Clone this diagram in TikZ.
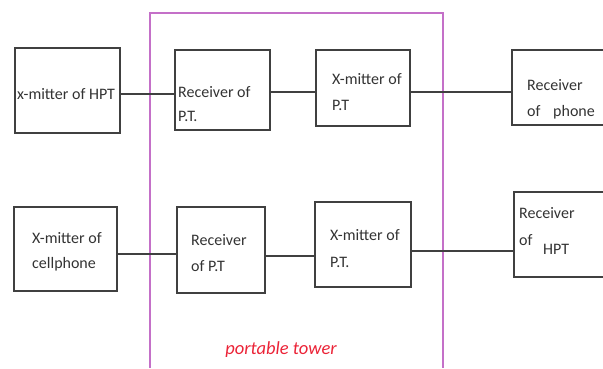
\documentclass[tikz,border=0pt]{standalone}
\usepackage{fontspec}
\setmainfont{Carlito}
\definecolor{towerpurple}{RGB}{196,112,200}
\definecolor{towerred}{RGB}{235,35,55}
\begin{document}
\begin{tikzpicture}[x=1pt,y=-1pt,
  blk/.style={draw=black!75, line width=1.6pt, rectangle, inner sep=0pt},
  wire/.style={draw=black!75, line width=1.6pt},
  txt/.style={anchor=base west, inner sep=0pt, text=black!80, font=\fontsize{16}{18}\selectfont},
  towerbox/.style={draw=towerpurple, line width=1.5pt},
  towerlabel/.style={anchor=base, inner sep=0pt, text=towerred, font=\fontsize{18.5}{20}\selectfont\itshape}]
\useasboundingbox (0,0) rectangle (603,368);
% portable tower frame
\coordinate (t1) at (150,368);
\coordinate (t2) at (150,13);
\coordinate (t3) at (443,13);
\coordinate (t4) at (443,368);
\draw[towerbox] (t1) -- (t2) -- (t3) -- (t4);
\node[towerlabel] (pt) at (281,354) {portable tower};
% boxes row 1
\node[blk, minimum width=105, minimum height=85] (a) at (67.5,90.5) {};
\node[blk, minimum width=95, minimum height=80] (b) at (222.5,90) {};
\node[blk, minimum width=94, minimum height=76] (c) at (363,88) {};
\node[blk, minimum width=108, minimum height=75] (d) at (566,87.5) {};
% boxes row 2
\node[blk, minimum width=103, minimum height=84] (e) at (65.5,249) {};
\node[blk, minimum width=88, minimum height=86] (f) at (221,250) {};
\node[blk, minimum width=96, minimum height=85] (g) at (363,244.5) {};
\node[blk, minimum width=106, minimum height=85] (h) at (567,234.5) {};
% texts
\node[txt] (a1) at (17,99) {x-mitter of HPT};
\node[txt] (b1) at (178,97) {Receiver of};
\node[txt] (b2) at (178,121) {P.T.};
\node[txt] (c1) at (332,84) {X-mitter of};
\node[txt] (c2) at (332,110) {P.T};
\node[txt] (d1) at (527,90) {Receiver};
\node[txt] (d2) at (527,116) {of};
\node[txt] (d3) at (553,116) {phone};
\node[txt] (e1) at (32,243) {X-mitter of};
\node[txt] (e2) at (32,268) {cellphone};
\node[txt] (f1) at (191,245) {Receiver};
\node[txt] (f2) at (191,271) {of P.T};
\node[txt] (g1) at (330,240) {X-mitter of};
\node[txt] (g2) at (330,267) {P.T.};
\node[txt] (h1) at (519,218) {Receiver};
\node[txt] (h2) at (519,245) {of};
\node[txt] (h3) at (543,254) {HPT};
% connectors
\coordinate (r1) at (0,94);
\coordinate (r2) at (0,92);
\coordinate (s1) at (0,254);
\coordinate (s2) at (0,256);
\coordinate (s3) at (0,251);
\draw[wire] (a.east |- r1) -- (b.west |- r1);
\draw[wire] (b.east |- r2) -- (c.west |- r2);
\draw[wire] (c.east |- r2) -- (d.west |- r2);
\draw[wire] (e.east |- s1) -- (f.west |- s1);
\draw[wire] (f.east |- s2) -- (g.west |- s2);
\draw[wire] (g.east |- s3) -- (h.west |- s3);
\end{tikzpicture}
\end{document}
